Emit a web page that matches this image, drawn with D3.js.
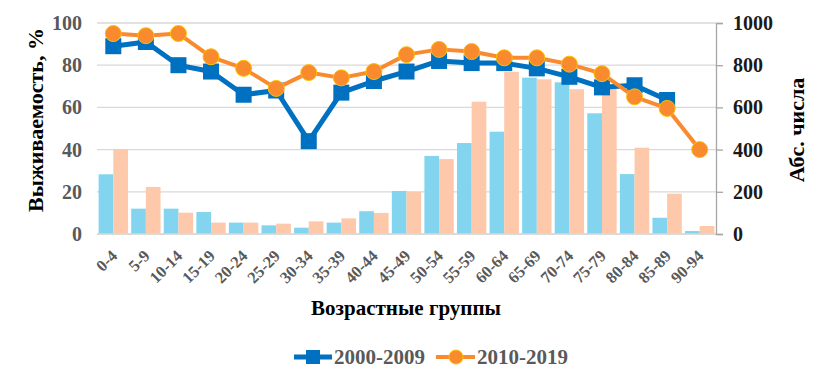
<!DOCTYPE html>
<html>
<head>
<meta charset="utf-8">
<script src="https://d3js.org/d3.v7.min.js"></script>
<style>
  body { margin: 0; background: #fff; }
  svg text { font-weight: bold; }
</style>
</head>
<body>
<script>
// age groups
var groups = ["0-4","5-9","10-14","15-19","20-24","25-29","30-34","35-39","40-44","45-49",
  "50-54","55-59","60-64","65-69","70-74","75-79","80-84","85-89","90-94"];

// survival, % (lines, left axis)
var surv0009 = [89, 91, 80, 77, 66, 68, 44, 67, 72.5, 77, 82, 81, 81, 78.5, 74.5, 69.5, 70.5, 63.5, null];
var surv1019 = [95, 94, 95, 84, 78.5, 69, 76.5, 74, 77, 85, 87.5, 86.5, 83.5, 83.5, 80.5, 76, 65, 59.5, 40];

// absolute numbers (bars, right axis)
var abs0009 = [283, 120, 120, 104, 54, 41, 30, 54, 108, 204, 370, 431, 485, 741, 719, 572, 284, 77, 14];
var abs1019 = [403, 223, 101, 54, 54, 49, 60, 74, 100, 200, 355, 627, 769, 733, 686, 690, 409, 191, 38];

var leftTicks = [0, 20, 40, 60, 80, 100];
var rightTicks = [0, 200, 400, 600, 800, 1000];

var W = 819, H = 377;
var m = {left: 97, right: 103, top: 23, bottom: 143};
var serif = "Liberation Serif, Times New Roman, Times, Tinos, Noto Serif, DejaVu Serif, FreeSerif, serif";

var svg = d3.select("body").append("svg")
  .attr("width", W)
  .attr("height", H)
  .style("font-family", serif);

var x = d3.scaleBand().domain(groups).range([m.left, W - m.right]).paddingInner(0).paddingOuter(0);
var yL = d3.scaleLinear().domain([0, 100]).range([H - m.bottom, m.top]);
var yR = d3.scaleLinear().domain([0, 1000]).range([H - m.bottom, m.top]);

// gridlines
svg.append("g").selectAll("line")
  .data(leftTicks)
  .enter().append("line")
  .attr("x1", m.left).attr("x2", W - m.right)
  .attr("y1", function(d) { return yL(d); })
  .attr("y2", function(d) { return yL(d); })
  .attr("stroke", "#d9d9d9")
  .attr("stroke-width", 1.3);

// bars
var inner = d3.scaleBand().domain([0, 1]).range([0, x.bandwidth()]).paddingOuter(0.11).paddingInner(0);
var bars = [abs0009, abs1019];
var barColors = ["#83d4ef", "#fdc9aa"];
bars.forEach(function(series, si) {
  svg.append("g").selectAll("rect")
    .data(series)
    .enter().append("rect")
    .attr("x", function(d, i) { return x(groups[i]) + inner(si); })
    .attr("width", inner.bandwidth())
    .attr("y", function(d) { return yR(d); })
    .attr("height", function(d) { return yR(0) - yR(d); })
    .attr("fill", barColors[si]);
});

// bottom axis line
svg.append("line")
  .attr("x1", m.left).attr("x2", W - m.right)
  .attr("y1", yL(0)).attr("y2", yL(0))
  .attr("stroke", "#d9d9d9").attr("stroke-width", 1.3);

// right axis
var rAxis = svg.append("g")
  .attr("transform", "translate(" + (W - m.right) + ",0)")
  .call(d3.axisRight(yR).tickValues(rightTicks).tickFormat(d3.format("d")).tickSize(7).tickPadding(10));
rAxis.attr("font-family", null);
rAxis.select(".domain").attr("stroke", "#a6a6a6").attr("stroke-width", 1.3);
rAxis.selectAll(".tick line").attr("stroke", "#a6a6a6").attr("stroke-width", 1.3);
rAxis.selectAll(".tick text")
  .attr("font-size", 20).attr("fill", "#1a1a1a");

// left axis
var lAxis = svg.append("g")
  .attr("transform", "translate(" + m.left + ",0)")
  .call(d3.axisLeft(yL).tickValues(leftTicks).tickSize(0).tickPadding(15));
lAxis.attr("font-family", null);
lAxis.select(".domain").remove();
lAxis.selectAll(".tick text")
  .attr("font-size", 20).attr("fill", "#595959");

// x tick labels
svg.append("g").selectAll("text")
  .data(groups)
  .enter().append("text")
  .attr("transform", function(d) {
    return "translate(" + (x(d) + x.bandwidth() / 2 + 5) + "," + (yL(0) + 23) + ") rotate(-45)";
  })
  .attr("text-anchor", "end")
  .attr("font-size", 16.5)
  .attr("fill", "#595959")
  .text(function(d) { return d; });

// lines
var lineGen = d3.line()
  .defined(function(d) { return d != null; })
  .x(function(d, i) { return x(groups[i]) + x.bandwidth() / 2; })
  .y(function(d) { return yL(d); });

svg.append("path")
  .datum(surv0009)
  .attr("d", lineGen)
  .attr("fill", "none")
  .attr("stroke", "#0070c0")
  .attr("stroke-width", 5)
  .attr("stroke-linejoin", "round");

svg.append("g").selectAll("rect")
  .data(surv0009.map(function(v, i) { return {v: v, i: i}; }).filter(function(d) { return d.v != null; }))
  .enter().append("rect")
  .attr("x", function(d) { return x(groups[d.i]) + x.bandwidth() / 2 - 8; })
  .attr("y", function(d) { return yL(d.v) - 8; })
  .attr("width", 16).attr("height", 16)
  .attr("fill", "#0070c0");

svg.append("path")
  .datum(surv1019)
  .attr("d", lineGen)
  .attr("fill", "none")
  .attr("stroke", "#f98a2e")
  .attr("stroke-width", 4)
  .attr("stroke-linejoin", "round");

svg.append("g").selectAll("circle")
  .data(surv1019)
  .enter().append("circle")
  .attr("cx", function(d, i) { return x(groups[i]) + x.bandwidth() / 2; })
  .attr("cy", function(d) { return yL(d); })
  .attr("r", 8)
  .attr("fill", "#f98a2e")
  .attr("stroke", "#ffc000")
  .attr("stroke-width", 1);

// axis titles
svg.append("text")
  .attr("transform", "translate(43," + 120 + ") rotate(-90)")
  .attr("text-anchor", "middle")
  .attr("font-size", 22)
  .attr("fill", "#000")
  .text("Выживаемость, %");

svg.append("text")
  .attr("transform", "translate(804," + 130 + ") rotate(-90)")
  .attr("text-anchor", "middle")
  .attr("font-size", 22)
  .attr("fill", "#000")
  .text("Абс. числа");

svg.append("text")
  .attr("x", 406).attr("y", 315)
  .attr("text-anchor", "middle")
  .attr("font-size", 21)
  .attr("fill", "#000")
  .text("Возрастные группы");

// legend
var legY = 357;
var leg = svg.append("g");
leg.append("line").attr("x1", 294).attr("x2", 332).attr("y1", legY).attr("y2", legY)
  .attr("stroke", "#0070c0").attr("stroke-width", 5);
leg.append("rect").attr("x", 306).attr("y", legY - 7).attr("width", 14).attr("height", 14).attr("fill", "#0070c0");
leg.append("text").attr("x", 334).attr("y", legY + 7).attr("font-size", 21).attr("fill", "#595959").text("2000-2009");
leg.append("line").attr("x1", 436).attr("x2", 475).attr("y1", legY).attr("y2", legY)
  .attr("stroke", "#f98a2e").attr("stroke-width", 4);
leg.append("circle").attr("cx", 456).attr("cy", legY).attr("r", 7)
  .attr("fill", "#f98a2e").attr("stroke", "#ffc000").attr("stroke-width", 1);
leg.append("text").attr("x", 477).attr("y", legY + 7).attr("font-size", 21).attr("fill", "#595959").text("2010-2019");
</script>
</body>
</html>
